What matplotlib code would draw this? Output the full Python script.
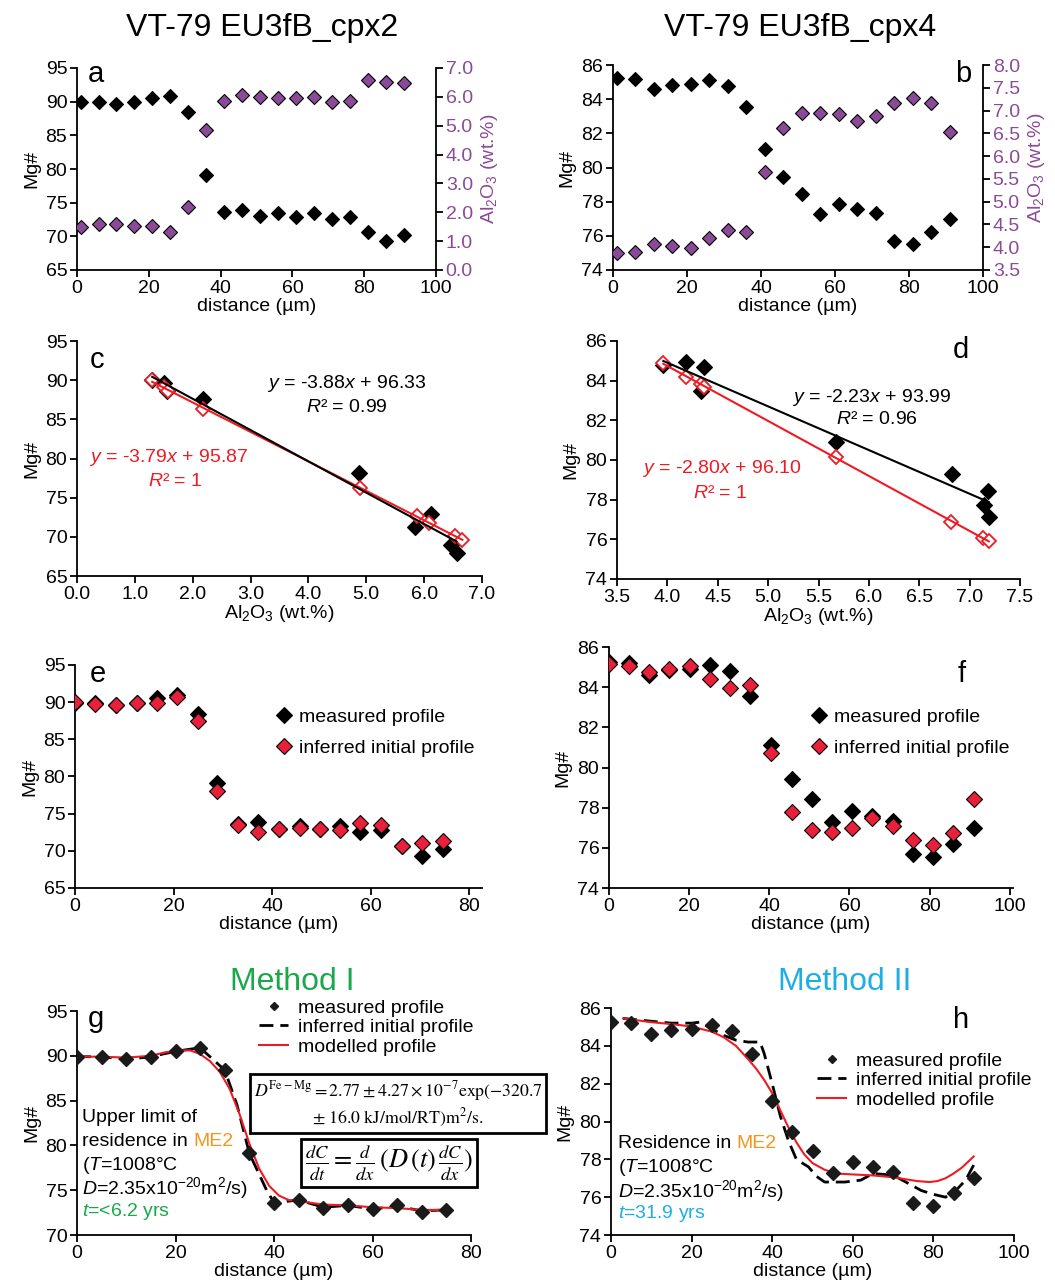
import numpy as np
import matplotlib.pyplot as plt
from matplotlib.ticker import FormatStrFormatter

plt.rcParams['font.family'] = ['Liberation Sans', 'DejaVu Sans']
plt.rcParams['mathtext.fontset'] = 'custom'
plt.rcParams['mathtext.rm'] = 'Liberation Sans'
plt.rcParams['mathtext.it'] = 'Liberation Sans:italic'
plt.rcParams['mathtext.bf'] = 'Liberation Sans:bold'
plt.rcParams['font.size'] = 14

# ---- data ----
# profiles a / b (distance in um)
x_ab = [1, 6, 11, 16, 21, 26, 31, 36, 41, 46, 51, 56, 61, 66, 71, 76, 81, 86, 91]
mg_cpx2 = [89.9, 89.9, 89.6, 89.9, 90.5, 90.9, 88.4, 79.1, 73.6, 73.9, 73.0, 73.4,
           72.9, 73.4, 72.6, 72.8, 70.6, 69.3, 70.2]
al_cpx2 = [1.50, 1.60, 1.60, 1.54, 1.54, 1.31, 2.20, 4.86, 5.85, 6.05, 5.98, 5.96,
           5.96, 6.00, 5.83, 5.85, 6.58, 6.53, 6.47]
mg_cpx4 = [85.25, 85.2, 84.6, 84.85, 84.9, 85.1, 84.8, 83.55, 81.1, 79.45, 78.45, 77.3,
           77.85, 77.6, 77.35, 75.7, 75.55, 76.2, 77.0]
al_cpx4 = [3.87, 3.90, 4.06, 4.03, 3.98, 4.20, 4.38, 4.34, 5.66, 6.62, 6.95, 6.95,
           6.92, 6.77, 6.88, 7.17, 7.27, 7.16, 6.53]

# c: Mg# vs Al2O3, cpx2
c_al_meas = [1.30, 1.50, 1.56, 2.17, 4.88, 5.85, 6.12, 6.46, 6.56]
c_mg_meas = [90.0, 89.6, 88.6, 87.6, 78.1, 71.3, 72.9, 69.0, 68.0]
c_al_init = [1.30, 1.51, 1.57, 2.18, 4.89, 5.88, 6.08, 6.53, 6.66]
c_mg_init = [90.0, 89.1, 88.6, 86.3, 76.2, 72.7, 71.8, 70.1, 69.6]

# d: Mg# vs Al2O3, cpx4
d_al_meas = [3.96, 4.18, 4.36, 4.33, 5.67, 6.83, 7.18, 7.14, 7.19]
d_mg_meas = [84.78, 84.94, 84.7, 83.47, 80.92, 79.3, 78.46, 77.74, 77.15]
d_al_init = [3.96, 4.18, 4.33, 4.36, 5.67, 6.82, 7.13, 7.19]
d_mg_init = [84.9, 84.2, 83.85, 83.7, 80.13, 76.87, 76.06, 75.94]

# e / f: measured vs inferred initial profile
x_e = [0, 4.1, 8.3, 12.5, 16.6, 20.8, 24.9, 28.9, 33.0, 37.2, 41.4, 45.6, 49.7,
       53.8, 57.9, 62.1, 66.3, 70.4, 74.6]
mg_e_init = [90.0, 89.7, 89.6, 89.85, 89.85, 90.75, 87.4, 78.0, 73.5, 72.6, 72.9,
             73.05, 72.9, 72.8, 73.7, 73.5, 70.7, 71.05, 71.3]
x_f = [0, 5, 10, 15, 20.3, 25.3, 30.3, 35.3, 40.5, 45.6, 50.6, 55.6, 60.7, 65.7,
       70.8, 75.8, 80.9, 85.9, 91.0]
mg_f_init = [85.17, 85.07, 84.76, 84.9, 85.07, 84.42, 83.96, 84.1, 80.72, 77.77,
             76.9, 76.79, 76.99, 77.49, 77.1, 76.41, 76.16, 76.74, 78.45]

# g / h: diffusion modelling
x_g = [0, 5, 10, 15, 20, 25, 30, 35, 40, 45, 50, 55, 60, 65, 70, 75]
g_init_x = [0, 5, 10, 15, 20, 25, 30, 32.5, 35, 38.5, 40, 45, 50, 55, 60, 65, 70, 75]
g_init_y = [89.9, 89.9, 89.6, 89.9, 90.5, 90.9, 88.4, 84.5, 79.1, 75.0, 73.6, 73.9,
            73.1, 73.3, 72.9, 73.2, 72.7, 72.8]
g_mod_x = [0, 5, 10, 15, 18, 21, 23, 25, 27, 29, 31, 33, 35, 37, 39, 41, 43, 46, 50,
           55, 60, 65, 70, 75]
g_mod_y = [89.9, 89.9, 89.8, 90.0, 90.4, 90.6, 90.6, 90.2, 89.4, 88.2, 86.3, 83.5,
           80.2, 77.4, 75.5, 74.4, 73.9, 73.7, 73.4, 73.3, 73.1, 73.0, 72.8, 72.8]

x_h = [0, 5, 10, 15, 20, 25, 30, 35, 40, 45, 50, 55, 60, 65, 70, 75, 80, 85, 90]
h_init_x = [3, 10, 15, 20, 22, 25, 28, 31, 34, 37, 38, 40, 42, 44, 46, 49, 51, 53,
            55, 58, 62, 65, 68, 71, 74, 77, 80, 83, 86, 88, 90]
h_init_y = [85.45, 85.3, 85.2, 85.2, 85.25, 84.9, 84.55, 84.3, 84.2, 84.2, 83.6, 82.0,
            80.3, 79.0, 78.0, 77.6, 77.1, 76.8, 76.8, 76.8, 76.9, 77.25, 77.2, 77.05,
            76.7, 76.35, 76.15, 76.0, 76.45, 76.9, 77.7]
h_mod_x = [3, 10, 15, 20, 25, 28, 31, 34, 36, 38, 40, 42, 44, 46, 48, 50, 53, 56, 60,
           65, 70, 73, 76, 79, 81, 83, 85, 87, 89, 90]
h_mod_y = [85.45, 85.25, 85.15, 85.02, 84.75, 84.45, 84.0, 83.3, 82.8, 82.2, 81.5,
           80.6, 79.7, 78.9, 78.25, 77.8, 77.45, 77.25, 77.2, 77.15, 77.05, 76.95,
           76.85, 76.8, 76.85, 77.0, 77.25, 77.55, 77.95, 78.15]

purple = '#8b4a97'
red = '#ed1c24'
red_fill = '#e8203a'
green = '#1aa84a'
blue = '#1eaee6'
orange = '#f7941d'

W, H = 1055, 1283
fig = plt.figure(figsize=(W / 100, H / 100), dpi=100)


def box(l, t, r, b):
    return [l / W, 1 - b / H, (r - l) / W, (b - t) / H]


def fp(x, y):
    return x / W, 1 - y / H


def style(ax):
    ax.spines['top'].set_visible(False)
    ax.spines['right'].set_visible(False)
    for s in ax.spines.values():
        s.set_linewidth(1.3)
    ax.tick_params(direction='out', length=5, width=1.3, labelsize=14, pad=2)


def letter(x, y, s):
    fig.text(*fp(x, y), s, fontsize=21, ha='left', va='baseline')


diam = dict(marker='D', ls='none', mec='black', mew=0.8)

# ---- titles ----
fig.text(*fp(262, 28), 'VT-79 EU3fB_cpx2', ha='center', va='center', fontsize=23)
fig.text(*fp(800, 28), 'VT-79 EU3fB_cpx4', ha='center', va='center', fontsize=23)
fig.text(*fp(292, 982), 'Method I', ha='center', va='center', fontsize=23, color=green)
fig.text(*fp(845, 982), 'Method II', ha='center', va='center', fontsize=23, color=blue)

# ---- a ----
ax = fig.add_axes(box(77, 68, 436, 270))
style(ax)
ax.plot(x_ab, mg_cpx2, ms=7.5, mfc='black', zorder=3, **diam)
ax.set_xlim(0, 100)
ax.set_ylim(65, 95)
ax.set_yticks(np.arange(65, 96, 5))
ax.set_xlabel('distance (µm)', labelpad=1)
ax.set_ylabel('Mg#')
ax2 = ax.twinx()
ax2.plot(x_ab, al_cpx2, ms=7.5, mfc=purple, **diam)
ax2.set_ylim(0, 7)
ax2.set_yticks(np.arange(0, 7.01, 1))
ax2.yaxis.set_major_formatter(FormatStrFormatter('%.1f'))
for k in ['top', 'left', 'bottom']:
    ax2.spines[k].set_visible(False)
ax2.spines['right'].set_linewidth(1.3)
ax2.tick_params(direction='out', length=5, width=1.3, labelsize=14, pad=2, labelcolor=purple)
ax2.set_ylabel('Al$_2$O$_3$ (wt.%)', color=purple)
letter(88, 82, 'a')

# ---- b ----
ax = fig.add_axes(box(613, 65, 983, 270))
style(ax)
ax.plot(x_ab, mg_cpx4, ms=7.5, mfc='black', zorder=3, **diam)
ax.set_xlim(0, 100)
ax.set_ylim(74, 86)
ax.set_yticks(np.arange(74, 87, 2))
ax.set_xlabel('distance (µm)', labelpad=1)
ax.set_ylabel('Mg#')
ax2 = ax.twinx()
ax2.plot(x_ab, al_cpx4, ms=7.5, mfc=purple, **diam)
ax2.set_ylim(3.5, 8.0)
ax2.set_yticks(np.arange(3.5, 8.01, 0.5))
ax2.yaxis.set_major_formatter(FormatStrFormatter('%.1f'))
for k in ['top', 'left', 'bottom']:
    ax2.spines[k].set_visible(False)
ax2.spines['right'].set_linewidth(1.3)
ax2.tick_params(direction='out', length=5, width=1.3, labelsize=14, pad=2, labelcolor=purple)
ax2.set_ylabel('Al$_2$O$_3$ (wt.%)', color=purple)
letter(955, 82, 'b')


def fit_line(ax, xs, ys, color):
    p = np.polyfit(xs, ys, 1)
    xx = np.array([min(xs), max(xs)])
    ax.plot(xx, np.polyval(p, xx), color=color, lw=1.5, zorder=4)


# ---- c ----
ax = fig.add_axes(box(77, 341, 482, 576))
style(ax)
ax.plot(c_al_meas, c_mg_meas, ms=7.8, mfc='black', zorder=3, **diam)
ax.plot(c_al_init, c_mg_init, marker='D', ls='none', ms=7.5, mfc='white', mec=red, mew=1.3, zorder=3)
fit_line(ax, c_al_init, c_mg_init, red)
fit_line(ax, c_al_meas, c_mg_meas, 'black')
ax.set_xlim(0, 7)
ax.set_ylim(65, 95)
ax.set_xticks(np.arange(0, 7.01, 1))
ax.xaxis.set_major_formatter(FormatStrFormatter('%.1f'))
ax.set_yticks(np.arange(65, 96, 5))
ax.set_xlabel('Al$_2$O$_3$ (wt.%)', labelpad=0)
ax.set_ylabel('Mg#')
fig.text(*fp(347, 383), '$\\it{y}$ = -3.88$\\it{x}$ + 96.33', ha='center', va='center')
fig.text(*fp(347, 407), '$\\it{R}$² = 0.99', ha='center', va='center')
fig.text(*fp(169, 458), '$\\it{y}$ = -3.79$\\it{x}$ + 95.87', ha='center', va='center', color=red)
fig.text(*fp(175, 481), '$\\it{R}$² = 1', ha='center', va='center', color=red)
letter(90, 368, 'c')

# ---- d ----
ax = fig.add_axes(box(617, 341, 1020, 579))
style(ax)
ax.plot(d_al_meas, d_mg_meas, ms=7.8, mfc='black', zorder=3, **diam)
ax.plot(d_al_init, d_mg_init, marker='D', ls='none', ms=7.5, mfc='white', mec=red, mew=1.3, zorder=3)
fit_line(ax, d_al_init, d_mg_init, red)
fit_line(ax, d_al_meas, d_mg_meas, 'black')
ax.set_xlim(3.5, 7.5)
ax.set_ylim(74, 86)
ax.set_xticks(np.arange(3.5, 7.51, 0.5))
ax.xaxis.set_major_formatter(FormatStrFormatter('%.1f'))
ax.set_yticks(np.arange(74, 87, 2))
ax.set_xlabel('Al$_2$O$_3$ (wt.%)', labelpad=0)
ax.set_ylabel('Mg#')
fig.text(*fp(872, 397), '$\\it{y}$ = -2.23$\\it{x}$ + 93.99', ha='center', va='center')
fig.text(*fp(877, 419), '$\\it{R}$² = 0.96', ha='center', va='center')
fig.text(*fp(722, 468), '$\\it{y}$ = -2.80$\\it{x}$ + 96.10', ha='center', va='center', color=red)
fig.text(*fp(720, 493), '$\\it{R}$² = 1', ha='center', va='center', color=red)
letter(953, 358, 'd')

# ---- e ----
leg_ef = dict(loc='upper left', bbox_transform=fig.transFigure, frameon=False, borderpad=0,
              borderaxespad=0, handlelength=1.0, handletextpad=0.3, labelspacing=0.72,
              fontsize=14)
ax = fig.add_axes(box(75, 665, 482, 888))
style(ax)
ax.plot(x_e, mg_cpx2, ms=8.5, mfc='black', zorder=3, label='measured profile', **diam)
ax.plot(x_e, mg_e_init, ms=8.5, mfc=red_fill, zorder=3, label='inferred initial profile', **diam)
ax.set_xlim(0, 82.6)
ax.set_ylim(65, 95)
ax.set_xticks(np.arange(0, 81, 20))
ax.set_yticks(np.arange(65, 96, 5))
ax.set_xlabel('distance (µm)', labelpad=1)
ax.set_ylabel('Mg#')
ax.legend(bbox_to_anchor=fp(274, 708), **leg_ef)
letter(90, 682, 'e')

# ---- f ----
ax = fig.add_axes(box(609, 647, 1013, 888))
style(ax)
ax.plot(x_f, mg_cpx4, ms=8.5, mfc='black', zorder=3, label='measured profile', **diam)
ax.plot(x_f, mg_f_init, ms=8.5, mfc=red_fill, zorder=3, label='inferred initial profile', **diam)
ax.set_xlim(0, 100.8)
ax.set_ylim(74, 86)
ax.set_xticks(np.arange(0, 101, 20))
ax.set_yticks(np.arange(74, 87, 2))
ax.set_xlabel('distance (µm)', labelpad=1)
ax.set_ylabel('Mg#')
ax.legend(bbox_to_anchor=fp(809, 708), **leg_ef)
letter(958, 682, 'f')

# ---- g ----
leg_gh = dict(loc='upper left', bbox_transform=fig.transFigure, frameon=False, borderpad=0,
              borderaxespad=0, handlelength=1.5, handletextpad=0.5, labelspacing=0.1,
              fontsize=14, markerscale=0.65)
order = [2, 0, 1]
ax = fig.add_axes(box(77, 1011, 471, 1235))
style(ax)
ax.plot(g_init_x, g_init_y, color='black', lw=2, dashes=(5, 2.5), zorder=2, label='inferred initial profile')
ax.plot(g_mod_x, g_mod_y, color=red, lw=1.5, zorder=3, label='modelled profile')
ax.plot(x_g, mg_cpx2[:16], marker='D', ls='none', ms=7, color='#1a1a1a', zorder=4, label='measured profile')
ax.set_xlim(0, 80)
ax.set_ylim(70, 95)
ax.set_xticks(np.arange(0, 81, 20))
ax.set_yticks(np.arange(70, 96, 5))
ax.set_xlabel('distance (µm)', labelpad=1)
ax.set_ylabel('Mg#')
hs, ls_ = ax.get_legend_handles_labels()
ax.legend([hs[i] for i in order], [ls_[i] for i in order], bbox_to_anchor=fp(259, 999), **leg_gh)
letter(88, 1027, 'g')
fig.text(*fp(82, 1118), 'Upper limit of', ha='left', va='center')
t = fig.text(*fp(82, 1142), 'residence in', ha='left', va='center')
ax.annotate('ME2', xy=(1, 0), xycoords=t, xytext=(3.9, 0), textcoords='offset points',
            ha='left', va='bottom', fontsize=14, color=orange)
fig.text(*fp(82, 1165), '($\\it{T}$=1008°C', ha='left', va='center')
fig.text(*fp(82, 1188), '$\\it{D}$=2.35x10$^{\\mathrm{-20}}$m$^{2}$/s)', ha='left', va='center')
fig.text(*fp(82, 1211), '$\\it{t}$=<6.2 yrs', ha='left', va='center', color=green)

eq1 = ('$D^{\\mathrm{Fe-Mg}} = 2.77 \\pm 4.27 \\times 10^{-7}\\mathrm{exp}(-320.7$\n'
       '$\\pm\\ 16.0\\ \\mathrm{kJ/mol/RT)m^{2}/s.}$')
fig.text(*fp(398, 1104), eq1, ha='center', va='center', fontsize=12.8, multialignment='center',
         math_fontfamily='stix', bbox=dict(boxstyle='square,pad=0.22', fc='white', ec='black', lw=2))
eq2 = '$\\frac{dC}{dt} = \\frac{d}{dx}\\,(D\\,(t)\\,\\frac{dC}{dx})$'
fig.text(*fp(389, 1163), eq2, ha='center', va='center', fontsize=19,
         math_fontfamily='stix', bbox=dict(boxstyle='square,pad=0.14', fc='white', ec='black', lw=2))

# ---- h ----
ax = fig.add_axes(box(611, 1008, 1014, 1235))
style(ax)
ax.plot(h_init_x, h_init_y, color='black', lw=2, dashes=(5, 2.5), zorder=2, label='inferred initial profile')
ax.plot(h_mod_x, h_mod_y, color=red, lw=1.5, zorder=3, label='modelled profile')
ax.plot(x_h, mg_cpx4, marker='D', ls='none', ms=7, color='#1a1a1a', zorder=4, label='measured profile')
ax.set_xlim(0, 100)
ax.set_ylim(74, 86)
ax.set_xticks(np.arange(0, 101, 20))
ax.set_yticks(np.arange(74, 87, 2))
ax.set_xlabel('distance (µm)', labelpad=1)
ax.set_ylabel('Mg#')
hs, ls_ = ax.get_legend_handles_labels()
ax.legend([hs[i] for i in order], [ls_[i] for i in order], bbox_to_anchor=fp(817, 1052), **leg_gh)
letter(953, 1028, 'h')
t = fig.text(*fp(618, 1144), 'Residence in', ha='left', va='center')
ax.annotate('ME2', xy=(1, 0), xycoords=t, xytext=(3.9, 0), textcoords='offset points',
            ha='left', va='bottom', fontsize=14, color=orange)
fig.text(*fp(618, 1167), '($\\it{T}$=1008°C', ha='left', va='center')
fig.text(*fp(618, 1191), '$\\it{D}$=2.35x10$^{\\mathrm{-20}}$m$^{2}$/s)', ha='left', va='center')
fig.text(*fp(618, 1214), '$\\it{t}$=31.9 yrs', ha='left', va='center', color=blue)

fig.savefig('out.png', dpi=100)
